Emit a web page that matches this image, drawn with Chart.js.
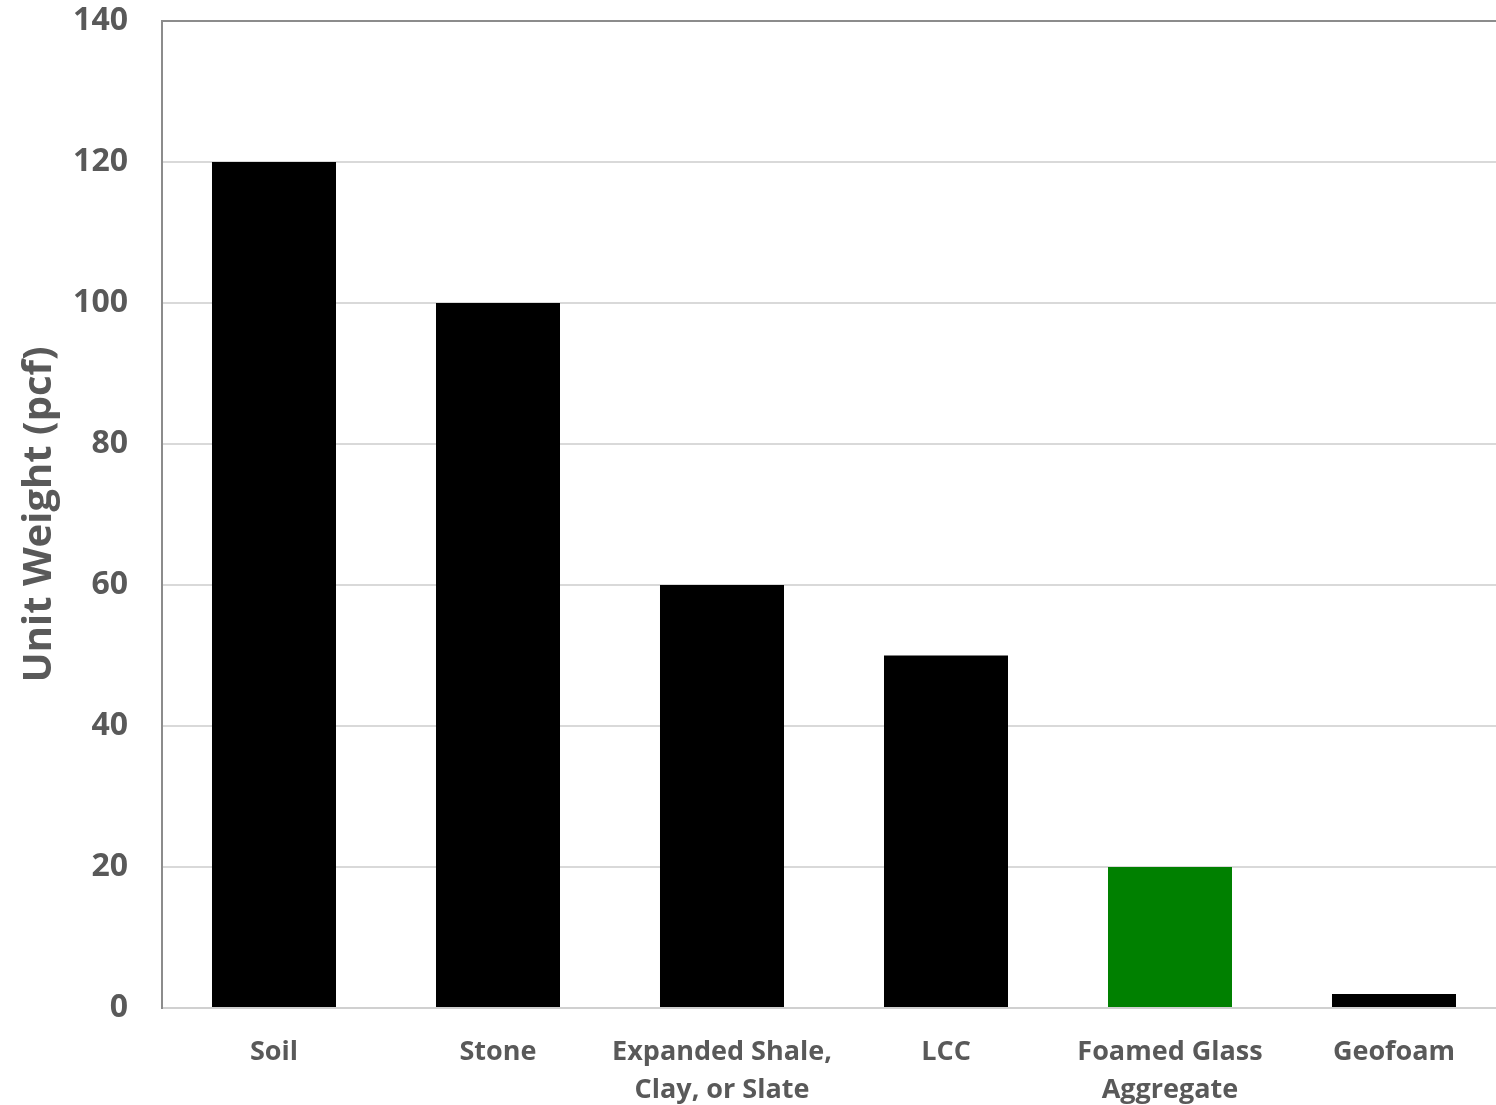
<!DOCTYPE html>
<html>
<head>
<meta charset="utf-8">
<script src="https://cdn.jsdelivr.net/npm/chart.js@4/dist/chart.umd.min.js"></script>
<style>
  html, body { margin: 0; padding: 0; background: #ffffff; overflow: hidden; }
  #wrap { width: 1496px; height: 1105px; overflow: hidden; }
</style>
</head>
<body>
<!-- the canvas is a little wider than the page, so the plot runs off the right edge -->
<div id="wrap"><canvas id="chart" width="1506" height="1105"></canvas></div>
<script>
// Unit weight of fill materials (pcf)
const categories = [
  'Soil',
  'Stone',
  ['Expanded Shale,', 'Clay, or Slate'],
  'LCC',
  ['Foamed Glass', 'Aggregate'],
  'Geofoam'
];
const unitWeights = [120, 100, 60, 50, 20, 2];
const barColors = ['#000000', '#000000', '#000000', '#000000', '#008000', '#000000'];
const yTicks = [0, 20, 40, 60, 80, 100, 120, 140];

const textColor = '#595959';
const fontFamily = '"Open Sans", "DejaVu Sans", sans-serif';

new Chart(document.getElementById('chart'), {
  type: 'bar',
  data: {
    labels: categories,
    datasets: [{
      data: unitWeights,
      backgroundColor: barColors,
      borderWidth: 0,
      categoryPercentage: 0.8,
      barPercentage: 0.692
    }]
  },
  options: {
    responsive: false,
    animation: false,
    layout: { padding: { top: 21, right: 0, left: 0, bottom: 0 } },
    plugins: {
      legend: { display: false },
      tooltip: { enabled: false }
    },
    scales: {
      x: {
        grid: { display: false, drawTicks: false },
        border: { display: true, color: '#d0d0d0', width: 2 },
        ticks: {
          color: textColor,
          padding: 25,
          maxRotation: 0,
          autoSkip: false,
          font: { family: fontFamily, size: 27, weight: 'bold', lineHeight: 1.42 }
        },
        afterFit: (scale) => {
          scale.height = 97;
          scale.paddingLeft = 0;
          scale.paddingRight = 0;
        }
      },
      y: {
        min: 0,
        max: 140,
        afterBuildTicks: (scale) => { scale.ticks = yTicks.map(v => ({ value: v })); },
        grid: {
          drawTicks: false,
          lineWidth: 2,
          color: (ctx) => ctx.tick && ctx.tick.value === 140 ? '#8c8c8c' : '#d9d9d9'
        },
        border: { display: true, color: '#8c8c8c', width: 2 },
        ticks: {
          color: textColor,
          padding: 34,
          font: { family: fontFamily, size: 32, weight: 'bold' }
        },
        title: {
          display: true,
          text: 'Unit Weight (pcf)',
          color: textColor,
          padding: { top: 16, bottom: 0 },
          font: { family: fontFamily, size: 40, weight: 'bold' }
        },
        afterFit: (scale) => {
          scale.width = 162;
          scale.paddingTop = 0;
          scale.paddingBottom = 0;
        }
      }
    }
  }
});
</script>
</body>
</html>
